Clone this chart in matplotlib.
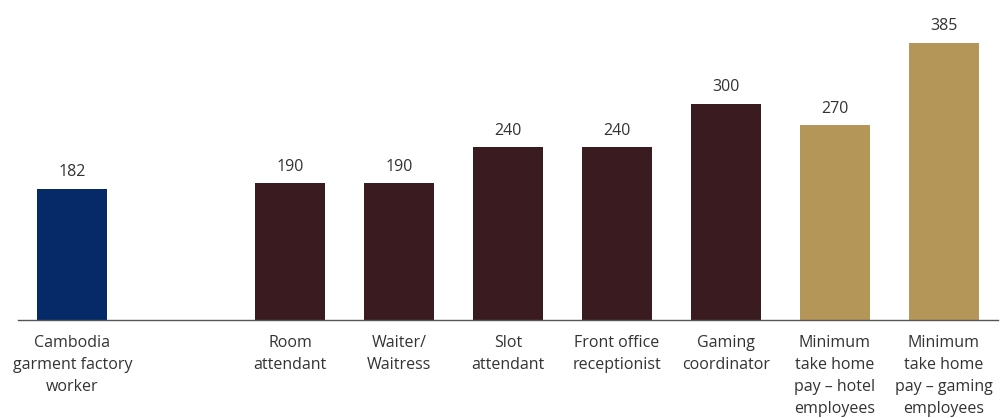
import numpy as np
import matplotlib
matplotlib.use('Agg')
import matplotlib.pyplot as plt

# Monthly wage comparison (USD)
labels = [
	'Cambodia\ngarment factory\nworker',
	'Room\nattendant',
	'Waiter/\nWaitress',
	'Slot\nattendant',
	'Front office\nreceptionist',
	'Gaming\ncoordinator',
	'Minimum\ntake home\npay \u2013 hotel\nemployees',
	'Minimum\ntake home\npay \u2013 gaming\nemployees',
]
values = [182, 190, 190, 240, 240, 300, 270, 385]
groups = ['garment', 'casino', 'casino', 'casino', 'casino', 'casino', 'minimum', 'minimum']
positions = [0, 2, 3, 4, 5, 6, 7, 8]

GROUP_COLORS = {'garment': '#062a68', 'casino': '#3a1c20', 'minimum': '#b39658'}
TEXT_COLOR = '#333333'

plt.rcParams['font.family'] = ['Open Sans', 'DejaVu Sans']

fig = plt.figure(figsize=(10, 4.18), dpi=100)
ax = fig.add_axes([0.018, 98 / 418, 0.98, 320 / 418])

colors = [GROUP_COLORS[g] for g in groups]
bars = ax.bar(positions, values, width=0.643, color=colors, zorder=2)

# Value labels above bars
for x, v in zip(positions, values):
	ax.annotate(str(v), xy=(x, v), xytext=(0, 6), textcoords='offset points',
		ha='center', va='bottom', fontsize=11.5, color=TEXT_COLOR)

ax.set_xlim(-0.5, 8.5)
ax.set_ylim(0, 444)
ax.set_xticks(positions)
ax.set_xticklabels(labels, fontsize=11.5, color=TEXT_COLOR, linespacing=1.48)
ax.tick_params(axis='x', length=0, pad=11)
ax.set_yticks([])

for side in ['top', 'right', 'left']:
	ax.spines[side].set_visible(False)
ax.spines['bottom'].set_color('#555555')
ax.spines['bottom'].set_linewidth(1.0)

fig.savefig('out.png', dpi=100)
